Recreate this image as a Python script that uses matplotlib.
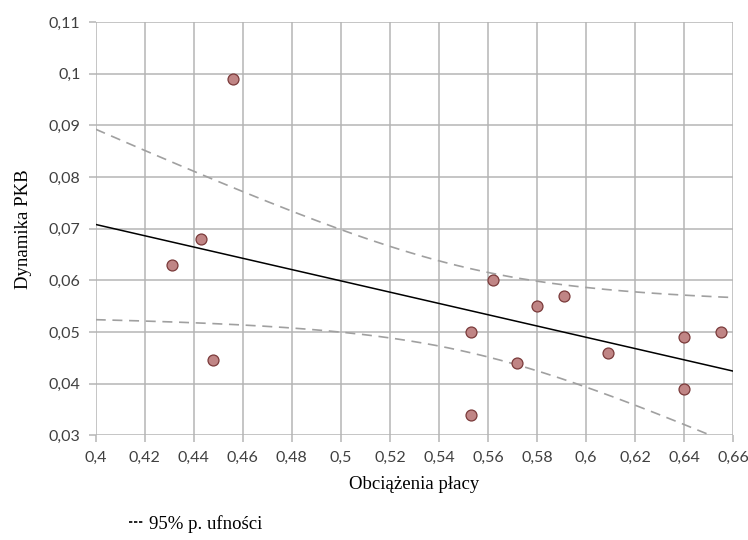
import numpy as np
import matplotlib
matplotlib.use("Agg")
import matplotlib.pyplot as plt
from matplotlib.lines import Line2D
from matplotlib.ticker import FuncFormatter

# Data
obciazenia = [0.431, 0.443, 0.448, 0.456, 0.553, 0.553, 0.562,
              0.572, 0.580, 0.591, 0.609, 0.640, 0.640, 0.655]
dynamika = [0.063, 0.068, 0.0445, 0.099, 0.050, 0.034, 0.060,
            0.044, 0.055, 0.057, 0.046, 0.049, 0.039, 0.050]
x_ticks = [0.40, 0.42, 0.44, 0.46, 0.48, 0.50, 0.52, 0.54, 0.56, 0.58, 0.60, 0.62, 0.64, 0.66]
y_ticks = [0.03, 0.04, 0.05, 0.06, 0.07, 0.08, 0.09, 0.10, 0.11]

x = np.array(obciazenia)
y = np.array(dynamika)
n = len(x)

# OLS fit and 95% confidence band for the mean
slope, intercept = np.polyfit(x, y, 1)
resid = y - (slope * x + intercept)
s = np.sqrt(np.sum(resid ** 2) / (n - 2))
t = 2.179  # t(0.975, df=12)
xs = np.linspace(0.40, 0.66, 200)
fit = slope * xs + intercept
hw = t * s * np.sqrt(1 / n + (xs - x.mean()) ** 2 / np.sum((x - x.mean()) ** 2))

fig = plt.figure(figsize=(7.48, 5.4), dpi=100)
ax = fig.add_axes([0.128, 0.194, 0.852, 0.765])

ax.plot(xs, fit, color="black", lw=1.1, zorder=3)
ax.plot(xs, fit + hw, color="#a0a0a0", lw=1.2, ls=(0, (6, 4)), zorder=3)
ax.plot(xs, fit - hw, color="#a0a0a0", lw=1.2, ls=(0, (6, 4)), zorder=3)
ax.scatter(x, y, s=62, facecolor="#c08585", edgecolor="#7a3a3a", linewidth=0.9, zorder=4)

ax.set_xlim(0.40, 0.66)
ax.set_ylim(0.03, 0.11)
ax.set_xticks(x_ticks)
ax.set_yticks(y_ticks)
fmt = FuncFormatter(lambda v, p: ("%g" % round(v, 2)).replace(".", ","))
ax.xaxis.set_major_formatter(fmt)
ax.yaxis.set_major_formatter(fmt)

ax.grid(True, color="#b5b5b5", lw=1.1)
ax.set_axisbelow(True)
for sp in ax.spines.values():
    sp.set_visible(False)
ax.tick_params(length=5, width=1.1, color="#b5b5b5", labelcolor="#404040",
               labelsize=11.5, pad=6)
for lab in ax.get_xticklabels() + ax.get_yticklabels():
    lab.set_fontfamily("Lato")

ax.set_xlabel("Obciążenia płacy", fontfamily="Liberation Serif", fontsize=13.5, labelpad=8)
ax.set_ylabel("Dynamika PKB", fontfamily="Liberation Serif", fontsize=13.5, labelpad=12)

handle = Line2D([], [], color="black", lw=1.2, ls=(0, (2, 1)))
fig.legend([handle], ["95% p. ufności"], loc="lower left", bbox_to_anchor=(0.15, -0.018),
           frameon=False, handlelength=0.8, handletextpad=0.25,
           prop={"family": "Liberation Serif", "size": 13.5})

fig.savefig("out.png", dpi=100)
